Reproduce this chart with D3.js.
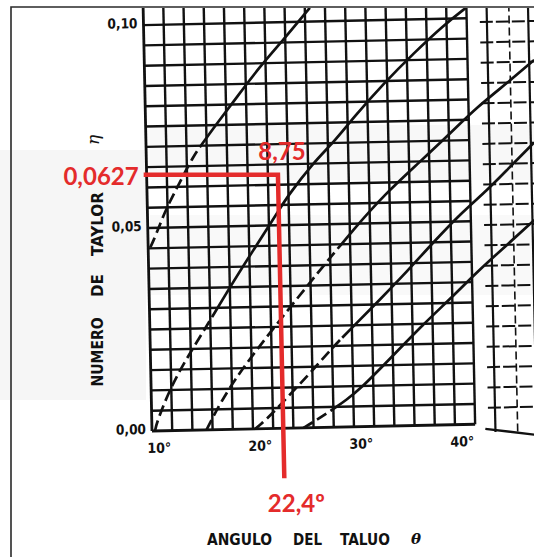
<!DOCTYPE html>
<html><head><meta charset="utf-8">
<script src="https://cdn.jsdelivr.net/npm/d3@7"></script>
<style>
html,body{margin:0;padding:0;background:#fff;}
svg{display:block;}
</style></head><body>
<svg id="chart" width="534" height="557"></svg>
<script>
// ---------------- data ----------------
const angleTickValues = [10, 20, 30, 40];
const angleTickLabels = ["10°", "20°", "30°", "40°"];
const taylorTickValues = [0.00, 0.05, 0.10];
const taylorTickLabels = ["0,00", "0,05", "0,10"];
const gridAngles = [10,12,14,16,18,20,22,24,26,28,30,32,34,36,38,40,42];
const gridTaylor = [0,0.005,0.010,0.015,0.020,0.025,0.030,0.035,0.040,0.045,0.050,
                    0.055,0.060,0.065,0.070,0.075,0.080,0.085,0.090,0.095,0.100];
const extGridAngles = [44.0, 46.2, 48.1];

// curves: [slope angle (deg), Taylor number]
const curveA = [[10.2,0.0452],[10.5,0.0466],[11.2,0.0507],[11.95,0.0551],[13.3,0.0612],[14.6,0.0673],
                [15.85,0.0714],[17.1,0.0755],[19.1,0.0818],[21.4,0.0891],[23.8,0.0956],[26.5,0.1034]];
const curveB = [[10.3,0],[10.5,0.0022],[11.9,0.0105],[13.6,0.0178],[15.7,0.0258],[17.7,0.0338],
                [20.1,0.0429],[23.1,0.0540],[23.85,0.0569],[26.5,0.0652],[28.6,0.0702],[30.65,0.0763],
                [33.7,0.0845],[36.7,0.0917],[39.75,0.0985],[41.96,0.1026]];
const curveC = [[15.4,0],[16.8,0.0065],[18.8,0.0141],[22.5,0.0255],[26.8,0.0383],[30.5,0.0490],
                [33.5,0.0570],[36.8,0.0643],[40.2,0.0719],[42.85,0.0781],[45.9,0.0839],[48.6,0.0894]];
const curveD = [[20.2,0],[20.7,0.0009],[22.0,0.0038],[23.7,0.0082],[25.8,0.0135],[28.0,0.0195],
                [29.8,0.0239],[32.8,0.0311],[35.7,0.0383],[38.0,0.0444],[41.05,0.0521],[43.7,0.0576],
                [45.7,0.0625],[48.4,0.0690]];
const curveE = [[25.0,0],[26.0,0.0014],[27.4,0.0035],[29.4,0.0068],[30.8,0.0095],[33.4,0.0158],
                [37.2,0.0252],[39.9,0.0312],[42.5,0.0375],[45.2,0.0433],[48.3,0.0500]];
const curves = [curveA, curveB, curveC, curveD, curveE];
const dashedBelow = [0.070, 0.028, 0.045, 0.022, 0.005];   // lower part of each curve is dashed

// red reading annotation
const readTaylor = 0.0627;
const readAngleDrawn = 23.0;
const readBottom = -0.0123;
const readLabels = { taylor: "0,0627", curve: "8,75", angle: "22,4º" };

// ---------------- layout ----------------
const svg = d3.select("#chart");
const X0 = 152, Y0 = 431, ROT = -1.2;
const x = d3.scaleLinear().domain([10, 42]).range([X0, X0 + 32 * 10.1]);
const y = d3.scaleLinear().domain([0, 0.10]).range([Y0, Y0 - 406]);
const ink = "#111";
const tickFont = "'DejaVu Sans Condensed','Liberation Sans Narrow','DejaVu Sans',sans-serif";
const red = "#e42b2b";

const ra = ROT * Math.PI / 180;
function toScreen(px, py) {
  const dx = px - X0, dy = py - Y0;
  return [X0 + dx * Math.cos(ra) - dy * Math.sin(ra), Y0 + dx * Math.sin(ra) + dy * Math.cos(ra)];
}

// very faint watermark shading of the scan
const wm = svg.append("g");
wm.append("rect").attr("x", 0).attr("y", 150).attr("width", 146).attr("height", 250).attr("fill", "#f6f6f6");
wm.append("rect").attr("x", 150).attr("y", 125).attr("width", 384).attr("height", 55).attr("fill", "#f8f8f8");
wm.append("rect").attr("x", 150).attr("y", 215).attr("width", 384).attr("height", 80).attr("fill", "#f9f9f9");

// outer frame
svg.append("path").attr("d", "M11,557V7H534").attr("fill", "none").attr("stroke", "#2a2a2a").attr("stroke-width", 1.6);

svg.append("defs").append("clipPath").attr("id", "clip")
  .append("rect").attr("x", 12).attr("y", 8).attr("width", 522).attr("height", 549);

const outer = svg.append("g").attr("clip-path", "url(#clip)");
const g = outer.append("g").attr("transform", `rotate(${ROT},${X0},${Y0})`);

// main grid
g.selectAll(".vg").data(gridAngles).join("line")
  .attr("x1", d => x(d)).attr("x2", d => x(d))
  .attr("y1", y(0)).attr("y2", y(0.115))
  .attr("stroke", ink).attr("stroke-width", d => d === 10 ? 2.8 : 2.4);
g.selectAll(".hg").data(gridTaylor).join("line")
  .attr("x1", x(10)).attr("x2", x(42))
  .attr("y1", d => y(d)).attr("y2", d => y(d))
  .attr("stroke", ink).attr("stroke-width", d => d === 0 ? 2.8 : 2.4);

// extension strip on the right (separate sheet)
const extOffset = -0.001;
g.selectAll(".eh").data(gridTaylor.slice(1)).join("line")
  .attr("x1", x(43.3)).attr("x2", x(50))
  .attr("y1", d => y(d + extOffset)).attr("y2", d => y(d + extOffset))
  .attr("stroke", ink).attr("stroke-width", 2.0).attr("stroke-dasharray", "13,3");
g.selectAll(".ev").data(extGridAngles).join("line")
  .attr("x1", d => x(d)).attr("x2", d => x(d))
  .attr("y1", y(-0.002)).attr("y2", y(0.115))
  .attr("stroke", ink).attr("stroke-width", (d, i) => i === 1 ? 1.6 : 2.2)
  .attr("stroke-dasharray", (d, i) => i === 1 ? "8,4" : null);
g.append("line").attr("x1", x(43.0)).attr("y1", y(-0.0012)).attr("x2", x(48.8)).attr("y2", y(-0.0032))
  .attr("stroke", ink).attr("stroke-width", 2.4);

// curves
const line = d3.line().x(d => x(d[0])).y(d => y(d[1])).curve(d3.curveBasis);
curves.forEach((c, i) => {
  const p = g.append("path").attr("d", line(c)).attr("fill", "none")
    .attr("stroke", ink).attr("stroke-width", 2.7);
  const node = p.node();
  const L = node.getTotalLength();
  const splitY = y(dashedBelow[i]);
  let lo = 0, hi = L;
  for (let k = 0; k < 40; k++) {
    const mid = (lo + hi) / 2;
    if (node.getPointAtLength(mid).y > splitY) lo = mid; else hi = mid;
  }
  const arr = []; let acc = 0;
  while (acc < lo) {
    const dsh = Math.min(11, lo - acc); arr.push(dsh); acc += dsh;
    if (acc >= lo) break;
    const gp = Math.min(5, lo - acc); arr.push(gp); acc += gp;
  }
  if (arr.length % 2 === 1) arr.push(0);
  arr.push(L - acc + 20, 0);
  p.attr("stroke-dasharray", arr.join(","));
});

// tick labels (rotated with the scanned sheet)
g.selectAll(".ty").data(taylorTickValues).join("text")
  .attr("x", x(10) - 6).attr("y", d => y(d) - 2)
  .attr("text-anchor", "end").attr("dominant-baseline", "central")
  .attr("font-family", tickFont).attr("font-weight", "bold").attr("font-size", 14)
  .attr("textLength", 30).attr("lengthAdjust", "spacingAndGlyphs")
  .attr("fill", ink)
  .text((d, i) => taylorTickLabels[i]);
g.selectAll(".tx").data(angleTickValues).join("text")
  .attr("x", d => x(d) + 7).attr("y", y(0) + 22)
  .attr("text-anchor", "middle")
  .attr("font-family", tickFont).attr("font-weight", "bold").attr("font-size", 14)
  .attr("fill", ink)
  .text((d, i) => angleTickLabels[i]);

// red reading lines
const corner = toScreen(x(readAngleDrawn), y(readTaylor));
const bottom = toScreen(x(readAngleDrawn), y(readBottom));
const leftEdge = toScreen(x(10), y(readTaylor));
svg.append("path")
  .attr("d", `M${leftEdge[0] - 3},${corner[1] + 1}H${corner[0]}L${bottom[0]},${bottom[1]}`)
  .attr("fill", "none").attr("stroke", red).attr("stroke-width", 4.5).attr("stroke-linejoin", "miter");

const redFont = "Lato,'Open Sans','Liberation Sans',sans-serif";
svg.append("text").attr("x", leftEdge[0] - 8).attr("y", corner[1] + 11)
  .attr("text-anchor", "end").attr("font-family", redFont).attr("font-weight", "bold")
  .attr("font-size", 24).attr("fill", red).text(readLabels.taylor);
svg.append("text").attr("x", corner[0] + 4).attr("y", corner[1] - 14)
  .attr("text-anchor", "middle").attr("font-family", redFont).attr("font-weight", "bold")
  .attr("font-size", 24).attr("fill", red).text(readLabels.curve);
svg.append("text").attr("x", bottom[0] + 12).attr("y", bottom[1] + 34)
  .attr("text-anchor", "middle").attr("font-family", redFont).attr("font-weight", "bold")
  .attr("font-size", 24).attr("fill", red).text(readLabels.angle);

// axis titles
const titleFont = tickFont;
const yWords = [["NUMERO", 352, 69], ["DE", 285.5, 23], ["TAYLOR", 224, 64]];
yWords.forEach(([w, cy, len]) => {
  svg.append("text").attr("transform", `translate(103,${cy}) rotate(-90)`)
    .attr("text-anchor", "middle").attr("font-family", titleFont).attr("font-weight", "bold")
    .attr("font-size", 16).attr("textLength", len).attr("lengthAdjust", "spacingAndGlyphs")
    .attr("fill", ink).text(w);
});
svg.append("text").attr("transform", "translate(99,140) rotate(-90)")
  .attr("text-anchor", "middle").attr("font-family", "'DejaVu Serif',serif").attr("font-style", "italic")
  .attr("font-size", 17).attr("fill", ink).text("η");

const xWords = [["ANGULO", 207, 65], ["DEL", 293, 29], ["TALUO", 340, 50]];
xWords.forEach(([w, sx, len]) => {
  svg.append("text").attr("x", sx).attr("y", 545)
    .attr("font-family", titleFont).attr("font-weight", "bold")
    .attr("font-size", 16).attr("textLength", len).attr("lengthAdjust", "spacingAndGlyphs")
    .attr("fill", ink).text(w);
});
svg.append("text").attr("x", 416).attr("y", 544).attr("text-anchor", "middle")
  .attr("font-family", "'DejaVu Serif',serif").attr("font-style", "italic").attr("font-weight", "bold")
  .attr("font-size", 15).attr("fill", ink).text("θ");
</script>
</body></html>
